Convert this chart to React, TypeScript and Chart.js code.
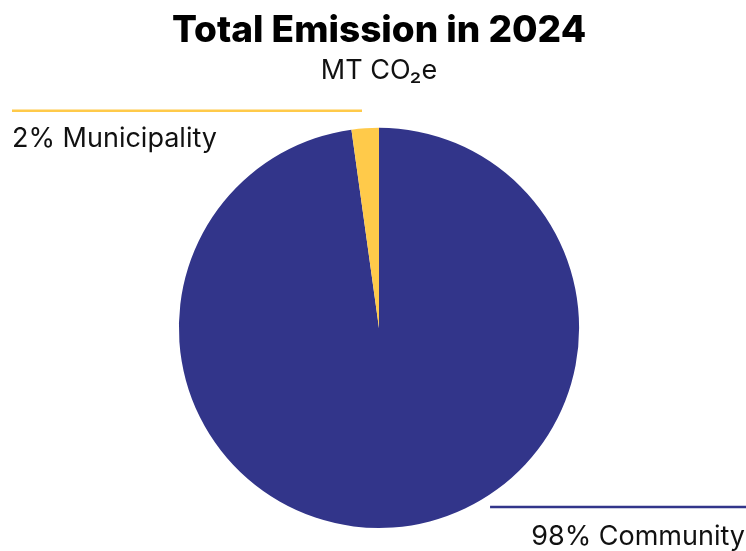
import React, { useEffect, useRef } from "react";
import { Chart, registerables } from "chart.js";

Chart.register(...registerables);

const categories = ["Community", "Municipality"];
const values = [97.8, 2.2];
const labelTexts = ["98% Community", "2% Municipality"];
const colors = ["#32358A", "#FFCA4A"];
const titleText = "Total Emission in 2024";
const subtitleText = "MT CO\u2082e";

const FONT = "Inter, 'Noto Sans', sans-serif";

const calloutPlugin = {
  id: "callouts",
  afterDraw(chart: any) {
    const meta = chart.getDatasetMeta(0);
    const arc = meta.data[0];
    if (!arc) return;
    const { x: cx, y: cy, outerRadius: r } = arc.getProps(["x", "y", "outerRadius"], true);
    const ctx = chart.ctx;
    const W = chart.width;
    ctx.save();
    ctx.font = `400 27px ${FONT}`;
    ctx.fillStyle = "#111111";
    ctx.lineWidth = 2.5;
    // Municipality (top-left)
    const y1 = cy - r - 17;
    ctx.strokeStyle = colors[1];
    ctx.beginPath();
    ctx.moveTo(12, y1);
    ctx.lineTo(cx - 17, y1);
    ctx.stroke();
    ctx.textAlign = "left";
    ctx.textBaseline = "alphabetic";
    ctx.fillText(labelTexts[1], 12, y1 + 36);
    // Community (bottom-right)
    const y2 = cy + r * 0.895;
    ctx.strokeStyle = colors[0];
    ctx.beginPath();
    ctx.moveTo(cx + r * 0.555, y2);
    ctx.lineTo(W, y2);
    ctx.stroke();
    ctx.textAlign = "right";
    ctx.fillText(labelTexts[0], W - 1, y2 + 38);
    ctx.restore();
  },
};

export default function App() {
  const ref = useRef<HTMLCanvasElement>(null);
  useEffect(() => {
    document.body.style.margin = "0";
    const chart = new Chart(ref.current!, {
      type: "pie",
      data: {
        labels: categories,
        datasets: [
          {
            data: values,
            backgroundColor: colors,
            borderWidth: 0,
          },
        ],
      },
      options: {
        animation: false,
        responsive: false,
        maintainAspectRatio: false,
        layout: { padding: { top: 0, bottom: 23, left: 12 } },
        plugins: {
          legend: { display: false },
          tooltip: { enabled: false },
          title: {
            display: true,
            text: titleText,
            color: "#000000",
            font: { family: FONT, size: 37, weight: "800" as any },
            padding: { top: 9, bottom: 0 },
          },
          subtitle: {
            display: true,
            text: subtitleText,
            color: "#111111",
            font: { family: FONT, size: 27, weight: "400" as any },
            padding: { top: 1, bottom: 41 },
          },
        },
      },
      plugins: [calloutPlugin],
    });
    return () => chart.destroy();
  }, []);
  return (
    <div style={{ width: 746, height: 551 }}>
      <canvas ref={ref} width={746} height={551} style={{ display: "block" }} />
    </div>
  );
}
